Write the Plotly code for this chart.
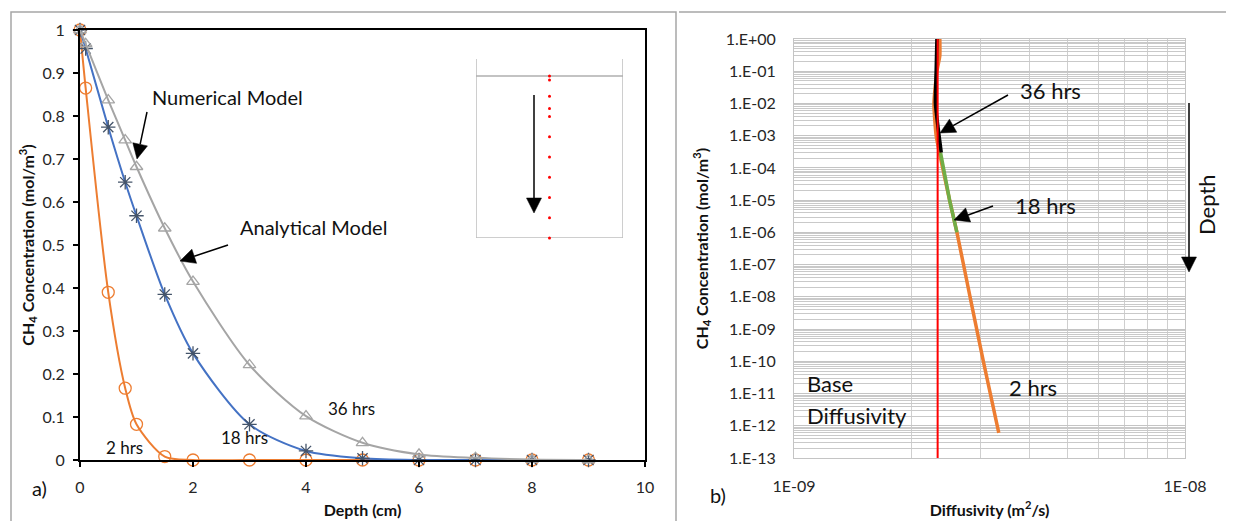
import math
import plotly.graph_objects as go

# The page places the figure 8 px in from the top-left corner of the window.
OFF = 8
FW, FH = 1234 - OFF, 521 - OFF


def PX(x):
    return (x - OFF) / FW


def PY(y):
    return 1 - (y - OFF) / FH


# ---------------- data: panel a) ----------------
depth_cm = [0, 0.1, 0.5, 0.8, 1.0, 1.5, 2, 3, 4, 5, 6, 7, 8, 9]
conc_2hrs = [1.0, 0.865, 0.39, 0.167, 0.083, 0.008, 0, 0, 0, 0, 0, 0, 0, 0]
conc_18hrs = [1.0, 0.957, 0.774, 0.646, 0.568, 0.385, 0.248, 0.083, 0.021, 0.004, 0, 0, 0, 0]
conc_36hrs = [1.0, 0.968, 0.837, 0.744, 0.682, 0.539, 0.415, 0.221, 0.102, 0.040, 0.013, 0.005, 0.001, 0]

# inset sketch (numerical mesh points in the column, cm)
inset_mesh_depth = [0, 0.1, 0.5, 0.8, 1.0, 1.5, 2.0, 2.5, 3.0, 3.5, 4.0]
inset_wall_x = [0, 0, 1, 1]
inset_wall_y = [-0.42, 4.0, 4.0, -0.42]
inset_level_x = [0, 1]
inset_level_y = [0, 0]

# ---------------- data: panel b) ----------------
conc_b_2hrs = [1.0, 0.3, 0.1, 1e-2, 1e-3, 1e-4, 1e-5, 1e-6, 1e-8, 1e-10, 6e-13]
diff_b_2hrs = [2.36e-9, 2.36e-9, 2.32e-9, 2.28e-9, 2.31e-9, 2.40e-9, 2.50e-9, 2.61e-9, 2.82e-9, 3.05e-9, 3.34e-9]
conc_b_18hrs = [3e-4, 1e-5, 1e-6]
diff_b_18hrs = [2.37e-9, 2.50e-9, 2.61e-9]
conc_b_36hrs = [1.0, 0.1, 1e-2, 1e-3, 3e-4]
diff_b_36hrs = [2.32e-9, 2.31e-9, 2.30e-9, 2.35e-9, 2.38e-9]
conc_base = [1.0, 1e-13]
diff_base = [2.33e-9, 2.33e-9]

decade_exponents = list(range(0, -14, -1))
decade_labels = ["1.E+00"] + ["1.E-%02d" % (-e) for e in decade_exponents[1:]]
x_decade_values = [1e-9, 1e-8]
x_decade_labels = ["1E-09", "1E-08"]

FONT = "Lato, 'Liberation Sans', Arial, sans-serif"
TXT = "#262626"
CONC_TITLE = "<b>CH<sub>4</sub> Concentration (mol/m<sup>3</sup>)</b>"
TITLE_FONT = dict(family=FONT, size=16, color="#111")

fig = go.Figure()

# ---- panel a traces ----
fig.add_trace(go.Scatter(
    x=depth_cm, y=conc_2hrs, mode="lines+markers", name="2 hrs",
    line=dict(color="#ED7D31", width=2, shape="spline", smoothing=0.8),
    marker=dict(symbol="circle-open", size=12, color="#ED7D31", line=dict(width=1.3)),
    cliponaxis=False, xaxis="x", yaxis="y"))
fig.add_trace(go.Scatter(
    x=depth_cm, y=conc_18hrs, mode="lines+markers", name="18 hrs",
    line=dict(color="#4472C4", width=2, shape="spline", smoothing=0.8),
    marker=dict(symbol="asterisk-open", size=12, color="#44546A", line=dict(width=1.3, color="#44546A")),
    cliponaxis=False, xaxis="x", yaxis="y"))
fig.add_trace(go.Scatter(
    x=depth_cm, y=conc_36hrs, mode="lines+markers", name="36 hrs",
    line=dict(color="#A5A5A5", width=2, shape="spline", smoothing=0.8),
    marker=dict(symbol="triangle-up-open", size=11, color="#A5A5A5", line=dict(width=1.3)),
    cliponaxis=False, xaxis="x", yaxis="y"))

# ---- inset sketch ----
fig.add_trace(go.Scatter(x=inset_wall_x, y=inset_wall_y, mode="lines",
                         line=dict(color="#BFBFBF", width=1.5), xaxis="x3", yaxis="y3",
                         hoverinfo="skip"))
fig.add_trace(go.Scatter(x=inset_level_x, y=inset_level_y, mode="lines",
                         line=dict(color="#AFAFAF", width=1.5), xaxis="x3", yaxis="y3",
                         hoverinfo="skip"))
fig.add_trace(go.Scatter(x=[0.5] * len(inset_mesh_depth), y=inset_mesh_depth, mode="markers",
                         marker=dict(color="#FF0000", size=3), xaxis="x3", yaxis="y3",
                         cliponaxis=False, hoverinfo="skip"))

# ---- panel b traces ----
fig.add_trace(go.Scatter(x=diff_b_2hrs, y=conc_b_2hrs, mode="lines", name="2 hrs",
                         line=dict(color="#ED7D31", width=3.5, shape="spline", smoothing=0.5),
                         xaxis="x2", yaxis="y2"))
fig.add_trace(go.Scatter(x=diff_b_18hrs, y=conc_b_18hrs, mode="lines", name="18 hrs",
                         line=dict(color="#70AD47", width=3.5),
                         xaxis="x2", yaxis="y2"))
fig.add_trace(go.Scatter(x=diff_b_36hrs, y=conc_b_36hrs, mode="lines", name="36 hrs",
                         line=dict(color="#000000", width=3.5, shape="spline", smoothing=0.5),
                         xaxis="x2", yaxis="y2"))
fig.add_trace(go.Scatter(x=diff_base, y=conc_base, mode="lines", name="Base Diffusivity",
                         line=dict(color="#FF0000", width=2),
                         xaxis="x2", yaxis="y2"))

# ---- ticks / minor grid for log axes ----
y2_major = [10.0 ** e for e in decade_exponents]
y2_minor = [k * 10.0 ** e for e in decade_exponents[1:] for k in range(2, 10)]
x2_minor = [k * 1e-9 for k in range(2, 10)]

axis_a = dict(showline=True, linecolor="black", linewidth=2, mirror=True, showgrid=False,
              zeroline=False, ticks="outside", ticklen=5, tickwidth=1.5, tickcolor="black",
              automargin=False, tickfont=dict(family=FONT, size=16, color=TXT))

fig.update_layout(
    width=FW, height=FH, margin=dict(l=0, r=0, t=0, b=0, autoexpand=False),
    paper_bgcolor="white", plot_bgcolor="white", showlegend=False,
    font=dict(family=FONT, color=TXT),
    xaxis=dict(axis_a, domain=[PX(80), PX(645)], range=[0, 10], dtick=2, anchor="y",
               ticklabelstandoff=7,
               title=dict(text="<b>Depth (cm)</b>", font=TITLE_FONT, standoff=10)),
    yaxis=dict(axis_a, domain=[PY(460), PY(30)], range=[0, 1], dtick=0.1, anchor="x",
               ticklabelstandoff=5,
               title=dict(text=CONC_TITLE, font=TITLE_FONT, standoff=4)),
    xaxis2=dict(type="log", domain=[PX(794), PX(1185)], range=[-9, -8], anchor="y2",
                tickmode="array", tickvals=x_decade_values, ticktext=x_decade_labels, ticks="",
                showgrid=True, gridcolor="#CFCFCF", gridwidth=1,
                minor=dict(tickvals=x2_minor, showgrid=True, gridcolor="#CFCFCF", gridwidth=1, ticks=""),
                showline=True, linecolor="#C4C4C4", mirror=True, zeroline=False, automargin=False,
                tickfont=dict(family=FONT, size=16, color=TXT), ticklabelstandoff=14,
                title=dict(text="<b>Diffusivity (m<sup>2</sup>/s)</b>", font=TITLE_FONT, standoff=10)),
    yaxis2=dict(type="log", domain=[PY(458), PY(39)], range=[-13, 0], anchor="x2",
                tickmode="array", tickvals=y2_major, ticktext=decade_labels, ticks="",
                showgrid=True, gridcolor="#C4C4C4", gridwidth=1,
                minor=dict(tickvals=y2_minor, showgrid=True, gridcolor="#C9C9C9", gridwidth=1, ticks=""),
                showline=True, linecolor="#C4C4C4", mirror=True, zeroline=False, automargin=False,
                tickfont=dict(family=FONT, size=16, color=TXT), ticklabelstandoff=14,
                title=dict(text=CONC_TITLE, font=TITLE_FONT, standoff=13)),
    xaxis3=dict(domain=[PX(476), PX(623)], range=[0, 1], visible=False, anchor="y3", automargin=False),
    yaxis3=dict(domain=[PY(238), PY(59)], range=[4.0, -0.42], visible=False, anchor="x3", automargin=False),
)

# frames around the two panels
fig.add_shape(type="rect", xref="paper", yref="paper", x0=PX(11), x1=PX(676), y0=PY(530), y1=PY(12),
              line=dict(color="#A6A6A6", width=1.5))
fig.add_shape(type="line", xref="paper", yref="paper", x0=PX(679), x1=PX(1240), y0=PY(12), y1=PY(12),
              line=dict(color="#A6A6A6", width=1.5))


def text(x, y, s, size, **kw):
    fig.add_annotation(x=PX(x), y=PY(y), xref="paper", yref="paper", text=s, showarrow=False,
                       font=dict(family=FONT, size=size, color=kw.pop("color", "#111")),
                       xanchor=kw.pop("xanchor", "center"), yanchor="middle", **kw)


def arrow(tipx, tipy, tailx, taily, head=15.0, half=7.5):
    """Black call-out arrow drawn as a shaft plus a filled triangular head (window pixels)."""
    dx, dy = tipx - tailx, tipy - taily
    length = math.hypot(dx, dy)
    ux, uy = dx / length, dy / length
    bx, by = tipx - ux * head, tipy - uy * head
    nx, ny = -uy, ux
    fig.add_shape(type="line", xref="paper", yref="paper",
                  x0=PX(tailx), y0=PY(taily), x1=PX(bx), y1=PY(by),
                  line=dict(color="black", width=1.5))
    pts = [(tipx, tipy), (bx + nx * half, by + ny * half), (bx - nx * half, by - ny * half)]
    path = "M " + " L ".join("%.5f,%.5f" % (PX(px), PY(py)) for px, py in pts) + " Z"
    fig.add_shape(type="path", xref="paper", yref="paper", path=path,
                  fillcolor="black", line=dict(color="black", width=0.5))


# panel a texts
text(227, 97, "Numerical Model", 20)
text(313, 227, "Analytical Model", 20)
text(351, 408, "36 hrs", 17)
text(244, 437, "18 hrs", 17)
text(125, 447, "2 hrs", 17)
text(39, 488, "a)", 20)
arrow(137, 159, 147, 112)
arrow(180, 261, 228, 245)
arrow(534, 213, 534, 95)

# panel b texts
text(1050, 90, "36 hrs", 22)
text(1045, 205, "18 hrs", 22)
text(1033, 387, "2 hrs", 22)
text(805, 383, "Base", 22, xanchor="left")
text(805, 415, "Diffusivity", 22, xanchor="left")
text(718, 495, "b)", 20)
text(1206, 205, "Depth", 22, textangle=-90)
arrow(940, 133, 1008, 95)
arrow(954, 220, 993, 206)
arrow(1189, 272, 1189, 103)

fig.write_html("out.html")
